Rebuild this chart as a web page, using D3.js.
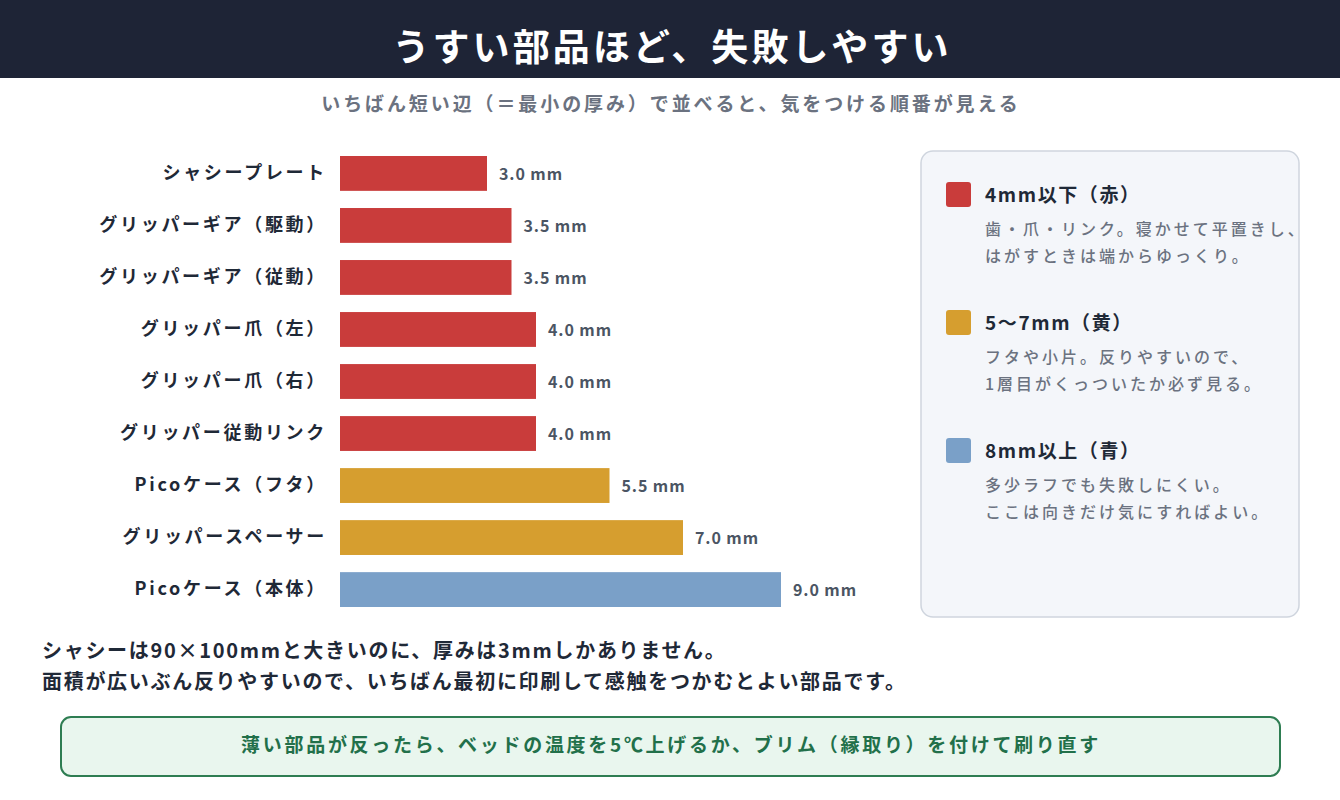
<!DOCTYPE html>
<html><head><meta charset="utf-8">
<script src="https://cdn.jsdelivr.net/npm/d3@7"></script>
<style>
html,body{margin:0;padding:0;background:#fff;}
svg{display:block;font-family:"Noto Sans CJK JP","Noto Sans",sans-serif;}
</style></head>
<body>
<svg id="chart" width="1340" height="800"></svg>
<script>
const titleText = "うすい部品ほど、失敗しやすい";
const subtitleText = "いちばん短い辺（＝最小の厚み）で並べると、気をつける順番が見える";
const categories = ["シャシープレート","グリッパーギア（駆動）","グリッパーギア（従動）","グリッパー爪（左）","グリッパー爪（右）","グリッパー従動リンク","Picoケース（フタ）","グリッパースペーサー","Picoケース（本体）"];
const thickness = [3.0,3.5,3.5,4.0,4.0,4.0,5.5,7.0,9.0];
const groups = ["red","red","red","red","red","red","yellow","yellow","blue"];
const legendTitles = ["4mm以下（赤）","5〜7mm（黄）","8mm以上（青）"];
const legendKeys = ["red","yellow","blue"];
const legendLines = [
  ["歯・爪・リンク。寝かせて平置きし、","はがすときは端からゆっくり。"],
  ["フタや小片。反りやすいので、","1層目がくっついたか必ず見る。"],
  ["多少ラフでも失敗しにくい。","ここは向きだけ気にすればよい。"]
];
const noteLines = ["シャシーは90×100mmと大きいのに、厚みは3mmしかありません。","面積が広いぶん反りやすいので、いちばん最初に印刷して感触をつかむとよい部品です。"];
const tipText = "薄い部品が反ったら、ベッドの温度を5℃上げるか、ブリム（縁取り）を付けて刷り直す";

const colorScale = d3.scaleOrdinal().domain(["red","yellow","blue"]).range(["#c93c3b","#d69e2f","#7aa0c8"]);

const svg = d3.select("#chart");

// header
svg.append("rect").attr("x",0).attr("y",0).attr("width",1340).attr("height",78).attr("fill","#1e2436");
svg.append("text").attr("x",672).attr("y",51).attr("text-anchor","middle").attr("dominant-baseline","middle")
  .attr("fill","#ffffff").attr("font-size",37).attr("font-weight",700).attr("letter-spacing",3.1).text(titleText);
svg.append("text").attr("x",671).attr("y",106).attr("text-anchor","middle").attr("dominant-baseline","middle")
  .attr("fill","#6b7280").attr("font-size",19).attr("font-weight",700).attr("letter-spacing",2.9).text(subtitleText);

// scales
const x = d3.scaleLinear().domain([0,9]).range([340,781]);
const y = d3.scaleBand().domain(categories).range([156,607]).paddingInner(0.33).paddingOuter(0);
const data = categories.map((c,i)=>({c, v:thickness[i], g:groups[i]}));

svg.selectAll("rect.bar").data(data).join("rect").attr("class","bar")
  .attr("x",x(0)).attr("y",d=>y(d.c)).attr("width",d=>x(d.v)-x(0)).attr("height",y.bandwidth())
  .attr("fill",d=>colorScale(d.g));

svg.selectAll("text.val").data(data).join("text").attr("class","val")
  .attr("x",d=>x(d.v)+12).attr("y",d=>y(d.c)+y.bandwidth()/2+2).attr("dominant-baseline","middle")
  .attr("fill","#4b5563").attr("font-size",16).attr("font-weight",700).attr("letter-spacing",0.9)
  .text(d=>d.v.toFixed(1)+" mm");

const yAxis = svg.append("g").attr("transform",`translate(${x(0)},0)`)
  .call(d3.axisLeft(y).tickSize(0).tickPadding(13));
yAxis.select(".domain").remove();
yAxis.selectAll("text").attr("fill","#1f2937").attr("font-size",18).attr("font-weight",700)
  .attr("letter-spacing",2.7).attr("font-family","\"Noto Sans CJK JP\",sans-serif");

// legend box
svg.append("rect").attr("x",921).attr("y",151).attr("width",378).attr("height",466).attr("rx",12)
  .attr("fill","#f4f6fa").attr("stroke","#cfd5de").attr("stroke-width",1.5);
const lg = svg.selectAll("g.lg").data(legendKeys).join("g").attr("class","lg")
  .attr("transform",(d,i)=>`translate(946,${182+i*128})`);
lg.append("rect").attr("width",25).attr("height",25).attr("rx",3).attr("fill",d=>colorScale(d));
lg.append("text").attr("x",39).attr("y",15).attr("dominant-baseline","middle").attr("fill","#1f2937")
  .attr("font-size",19).attr("font-weight",700).attr("letter-spacing",1.6).text((d,i)=>legendTitles[i]);
lg.each(function(d,i){
  d3.select(this).selectAll("text.desc").data(legendLines[i]).join("text").attr("class","desc")
    .attr("x",39).attr("y",(t,j)=>49+j*27).attr("dominant-baseline","middle")
    .attr("fill","#6b7280").attr("font-size",16).attr("font-weight",500).attr("letter-spacing",3).text(t=>t);
});

// notes
svg.selectAll("text.note").data(noteLines).join("text").attr("class","note")
  .attr("x",42).attr("y",(d,i)=>653+i*31).attr("dominant-baseline","middle")
  .attr("fill","#1f2937").attr("font-size",20).attr("font-weight",700).attr("letter-spacing",1.7).text(d=>d);

// tip box
svg.append("rect").attr("x",61).attr("y",717).attr("width",1219).attr("height",59).attr("rx",10)
  .attr("fill","#e9f6ee").attr("stroke","#2e7d52").attr("stroke-width",2);
svg.append("text").attr("x",671).attr("y",747).attr("text-anchor","middle").attr("dominant-baseline","middle")
  .attr("fill","#22704a").attr("font-size",19).attr("font-weight",700).attr("letter-spacing",2.7).text(tipText);
</script>
</body></html>
